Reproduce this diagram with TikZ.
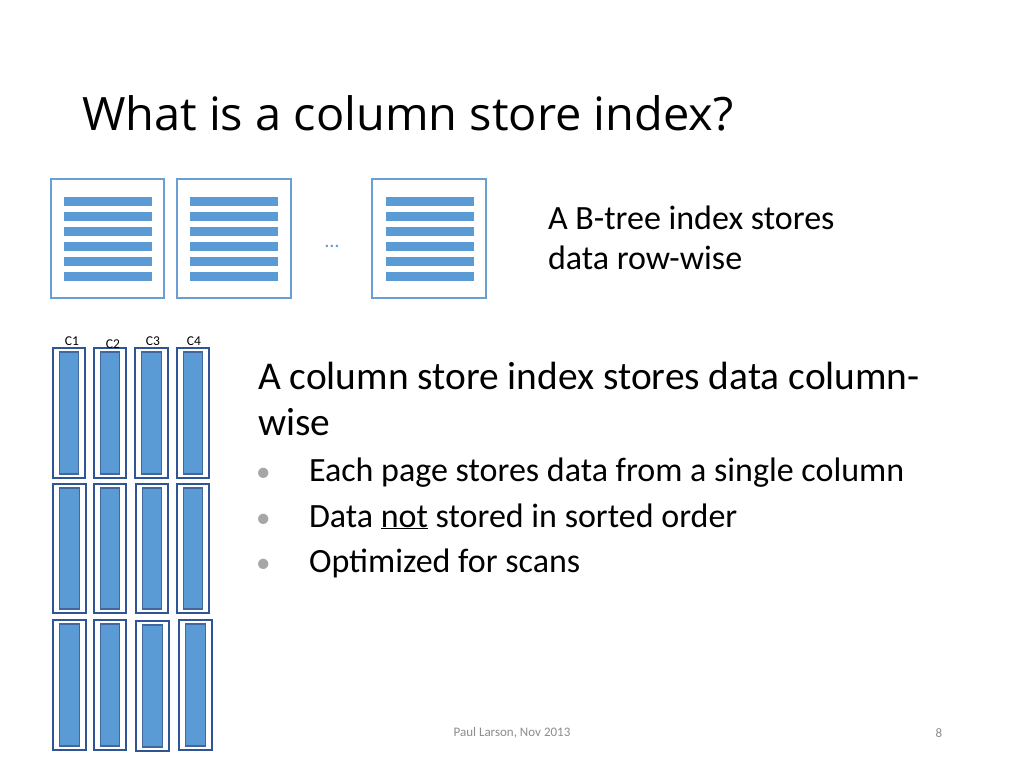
\documentclass[tikz,border=0pt]{standalone}
\usepackage{fontspec}
\setmainfont{Carlito}
\newfontfamily\titlefont{Open Sans}
\usetikzlibrary{positioning}
\definecolor{pageblue}{HTML}{6A9FD6}
\definecolor{barblue}{HTML}{5B9BD5}
\definecolor{outerblue}{HTML}{2F5597}
\definecolor{innerline}{HTML}{41679C}
\definecolor{bulletgray}{HTML}{A6A6A6}
\definecolor{footgray}{HTML}{8C8C8C}
\tikzset{
  page/.style={draw=pageblue, line width=1.5pt, fill=white},
  bar/.style={fill=barblue, draw=none},
  colouter/.style={draw=outerblue, line width=1.3pt, fill=white},
  colinner/.style={draw=innerline, line width=1.3pt, fill=barblue},
  txt/.style={anchor=base west, inner sep=0pt, outer sep=0pt},
  lbl/.style={font=\fontsize{13.5}{15}\selectfont, inner sep=0pt},
}
\begin{document}
\begin{tikzpicture}[x=1pt,y=-1pt]
\useasboundingbox (0,0) rectangle (1024,768);
\fill[white] (0,0) rectangle (1024,768);
% title
\node[txt] (title) at (82,130) {\titlefont\fontsize{46}{50}\selectfont\scalebox{1.02}[1]{What is a column store index?}};
% row-wise pages
\foreach \nm/\xa/\xb/\ba/\bb in {p1/51/164/64/152, p2/177/291/190/278, p3/372/486/386/474}{
  \draw[page] (\xa,179) rectangle (\xb,298);
  \coordinate (\nm) at ({(\xa+\xb)/2},238);
  \foreach \yy in {197,212,227,242,257,272}{
    \fill[bar] (\ba,\yy) rectangle (\bb,\yy+9);
  }
}
\node[text=barblue, inner sep=0pt] (dots) at (332,246) {\fontsize{20}{22}\selectfont\ldots};
\node[txt] (bt1) at (548,229) {\fontsize{34}{40}\selectfont A B-tree index stores};
\node[txt] (bt2) at (548,269) {\fontsize{34}{40}\selectfont data row-wise};
% column store
\foreach \xa/\ya/\xb/\yb in {
  53/348/85/478, 94/348/126/478, 135/348/168/478, 177/348/209/478,
  53/484/86/613, 94/484/126/613, 136/484/168/613, 177/484/209/613,
  53/620/86/750, 94/620/126/750, 136/621/169/751, 179/620/212/750}{
  \draw[colouter] (\xa,\ya) rectangle (\xb,\yb);
  \draw[colinner] (\xa+6.5,\ya+4) rectangle (\xb-6.5,\yb-4);
}
\node[lbl] (c1) at (72,341) {C1};
\node[lbl] (c2) at (113,344) {C2};
\node[lbl] (c3) at (153,341) {C3};
\node[lbl] (c4) at (194,341) {C4};
% column store text
\node[txt] (cs1) at (258,389) {\fontsize{39.4}{46}\selectfont A column store index stores data column-};
\node[txt] (cs2) at (258,435) {\fontsize{39.4}{46}\selectfont wise};
\foreach \nm/\yy/\tx in {b1/481/{Each page stores data from a single column}, b2/527/{Data \underline{not} stored in sorted order}, b3/572/{Optimized for scans}}{
  \node[txt, text=bulletgray] at (256,\yy) {\fontsize{29}{34}\selectfont\textbullet};
  \node[txt] (\nm) at (309,\yy) {\fontsize{34}{40}\selectfont \tx};
}
% footer
\node[text=footgray, inner sep=0pt] (foot) at (512,733) {\fontsize{13}{15}\selectfont Paul Larson, Nov 2013};
\node[text=footgray, inner sep=0pt] (pg) at (939,733) {\fontsize{13}{15}\selectfont 8};
\end{tikzpicture}
\end{document}
